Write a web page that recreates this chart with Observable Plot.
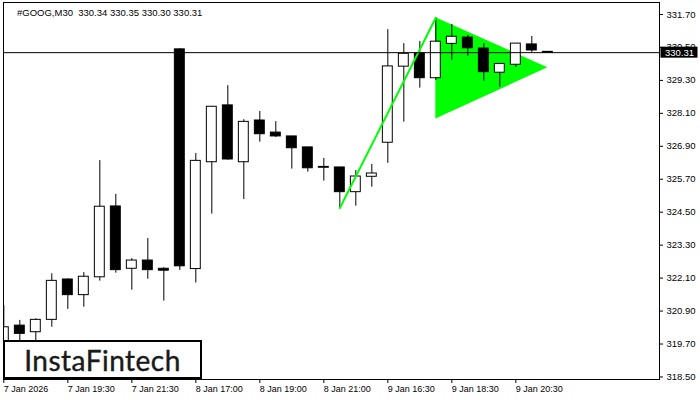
<!DOCTYPE html>
<html><head><meta charset="utf-8">
<script src="https://cdn.jsdelivr.net/npm/d3@7"></script>
<script src="https://cdn.jsdelivr.net/npm/@observablehq/plot@0.6"></script>
<style>
html,body{margin:0;padding:0;background:#fff;}
#wrap{position:relative;width:700px;height:400px;overflow:hidden;}
#chart svg{display:block;}
#title{position:absolute;left:17px;top:8px;font-family:"Liberation Sans",Arial,sans-serif;font-size:9.5px;line-height:10px;white-space:pre;color:#000;}
#logo{position:absolute;left:3px;top:340px;width:195px;height:35px;border:2px solid #000;background:#fff;font-family:Lato,"Open Sans",sans-serif;font-size:28px;letter-spacing:0.5px;color:#1a1a1a;display:flex;align-items:center;justify-content:center;-webkit-text-stroke:0.4px #1a1a1a;}
</style></head>
<body>
<div id="wrap"><div id="chart"></div><div id="title">#GOOG,M30  330.34 330.35 330.30 330.31</div><div id="logo">InstaFintech</div></div>
<script>
// OHLC of the M30 candles (index 0 = 7 Jan 17:30 ... 34 = 9 Jan 21:30)
const opens  = [319.54,320.37,320.13,320.58,322.05,321.48,322.13,324.71,322.44,322.74,322.44,330.43,322.43,326.32,328.39,326.32,327.84,327.40,327.26,326.86,326.15,326.13,325.23,325.79,327.03,329.80,330.28,329.38,330.63,330.86,330.46,329.58,329.87,330.61,330.34];
const highs  = [321.10,320.56,320.62,322.26,322.07,322.30,326.38,325.15,322.81,323.54,322.48,330.46,326.64,328.35,329.11,327.87,328.17,327.80,327.26,326.86,326.46,326.13,326.02,326.24,331.15,330.64,330.72,331.59,331.34,330.94,330.64,329.90,330.64,330.90,330.35];
const lows   = [319.39,319.65,319.79,320.31,320.96,321.04,321.99,322.28,321.66,322.06,321.26,322.38,321.92,324.43,326.39,324.96,327.05,327.22,326.07,325.96,325.63,324.65,324.72,325.41,326.28,327.78,329.02,329.30,330.04,330.18,329.27,329.05,329.78,330.32,330.30];
const closes = [320.31,320.07,320.58,322.00,321.48,322.15,324.70,322.39,322.74,322.39,322.37,322.53,326.37,328.34,326.42,327.79,327.34,327.26,326.83,326.10,326.12,325.23,325.80,325.91,329.81,330.27,329.38,330.71,330.89,330.47,329.60,329.90,330.64,330.39,330.31];
const lastPrice = 330.31;

// x-axis ticks (candle index) and their labels
const xTickPos = [0,4,8,12,16,20,24,28,32];
const xTickLabels = ["7 Jan 2026","7 Jan 19:30","7 Jan 21:30","8 Jan 17:00","8 Jan 19:00","8 Jan 21:00","9 Jan 16:30","9 Jan 18:30","9 Jan 20:30"];
// y-axis ticks
const yTicks = [318.5,319.7,320.9,322.1,323.3,324.5,325.7,326.9,328.1,329.3,330.5,331.7];

// bullish pennant: flagpole and triangle
const poleX = [21,27];
const poleY = [324.65,331.58];
const triX = [27,34];
const triLow = [327.89,329.76];
const triHigh = [331.58,329.76];

const candles = opens.map((o,i)=>({i, o, h: highs[i], l: lows[i], c: closes[i]}));
const pole = poleX.map((x,k)=>({x, y: poleY[k]}));
const tri = triX.map((x,k)=>({x, y1: triLow[k], y2: triHigh[k]}));

const chart = Plot.plot({
  width: 700, height: 400,
  marginTop: 2, marginRight: 41, marginBottom: 21, marginLeft: 3,
  style: {fontFamily: "'Liberation Sans', Arial, sans-serif", fontSize: "9px", color: "#000", background: "#fff"},
  x: {type: "linear", domain: [-0.02, 40.98], label: null},
  y: {domain: [318.408, 332.137], label: null},
  marks: [
    Plot.areaY(tri, {x: "x", y1: "y1", y2: "y2", fill: "#00ff00", fillOpacity: 1}),
    Plot.ruleX(candles, {x: "i", y1: "l", y2: "h", stroke: "#000", strokeWidth: 1, clip: true}),
    Plot.rect(candles, {x1: d => d.i - 0.31, x2: d => d.i + 0.31, y1: "o", y2: "c",
      fill: d => d.c >= d.o ? "#fff" : "#000", stroke: "#000", strokeWidth: 1, clip: true}),
    Plot.line(pole, {x: "x", y: "y", stroke: "#00ff00", strokeWidth: 2}),
    Plot.ruleY([lastPrice], {stroke: "#000", strokeWidth: 1}),
    Plot.frame({stroke: "#000"}),
    Plot.axisY(yTicks, {anchor: "right", tickSize: 3, tickPadding: 4, label: null,
      tickFormat: d => d.toFixed(2), fontSize: 9.5}),
    Plot.axisX(xTickPos, {anchor: "bottom", tickSize: 4, tickPadding: 2, label: null,
      tickFormat: d => xTickLabels[xTickPos.indexOf(d)], textAnchor: "start", fontSize: 9})
  ]
});
document.getElementById("chart").appendChild(chart);

// current price badge on the right axis
const yp = chart.scale("y").apply(lastPrice);
const xr = chart.scale("x").range[1];
const svg = d3.select(chart);
svg.append("rect").attr("x", xr + 1.5).attr("y", yp - 5.5).attr("width", 37).attr("height", 11).attr("fill", "#000");
svg.append("text").attr("x", xr + 6).attr("y", yp + 3.5).attr("fill", "#fff")
  .attr("text-anchor", "start")
  .style("font-family", "'Liberation Sans', Arial, sans-serif").style("font-size", "9.5px")
  .text(lastPrice.toFixed(2));
</script>
</body></html>
